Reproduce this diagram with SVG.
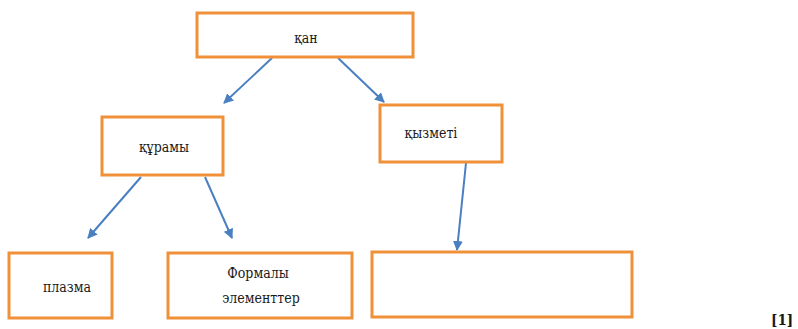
<svg xmlns="http://www.w3.org/2000/svg" width="798" height="329" viewBox="0 0 798 329">
<style>
.box{fill:#fff;stroke:#f0913a;stroke-width:3}
.lbl{font-family:"DejaVu Serif Condensed","DejaVu Serif",serif;font-size:14px;fill:#1a1a1a;text-anchor:middle}
.con{stroke:#4a7fc0;stroke-width:2;fill:none;marker-end:url(#ah)}
</style>
<defs>
<marker id="ah" viewBox="0 0 10 10" refX="9" refY="5" markerWidth="5" markerHeight="5" orient="auto" markerUnits="strokeWidth">
<path d="M0,0 L10,5 L0,10 z" fill="#4a7fc0"/>
</marker>
</defs>
<rect width="798" height="329" fill="#fff"/>
<g id="connectors">
<line class="con" x1="272" y1="58" x2="224" y2="103"/>
<line class="con" x1="338" y1="58" x2="384" y2="102"/>
<line class="con" x1="141" y1="177" x2="88" y2="238"/>
<line class="con" x1="205" y1="177" x2="232" y2="238"/>
<line class="con" x1="466" y1="163" x2="457" y2="250"/>
</g>
<g id="n-qan"><rect class="box" x="197" y="13" width="216" height="44"/><text class="lbl" x="306" y="43">қан</text></g>
<g id="n-quramy"><rect class="box" x="102" y="117" width="121" height="58"/><text class="lbl" x="164" y="152">құрамы</text></g>
<g id="n-qyzmeti"><rect class="box" x="380" y="105" width="122" height="57"/><text class="lbl" x="431" y="138">қызметі</text></g>
<g id="n-plazma"><rect class="box" x="9" y="253" width="103" height="65"/><text class="lbl" x="67" y="292">плазма</text></g>
<g id="n-formaly"><rect class="box" x="168" y="253" width="184" height="65"/><text class="lbl" x="258" y="278">Формалы</text><text class="lbl" x="261" y="303">элементтер</text></g>
<g id="n-empty"><rect class="box" x="372" y="252" width="260" height="65"/></g>
<text x="771" y="325" style="font-family:'DejaVu Serif Condensed','DejaVu Serif',serif;font-size:15px;font-weight:bold;fill:#1a1a1a">[1]</text>
</svg>
